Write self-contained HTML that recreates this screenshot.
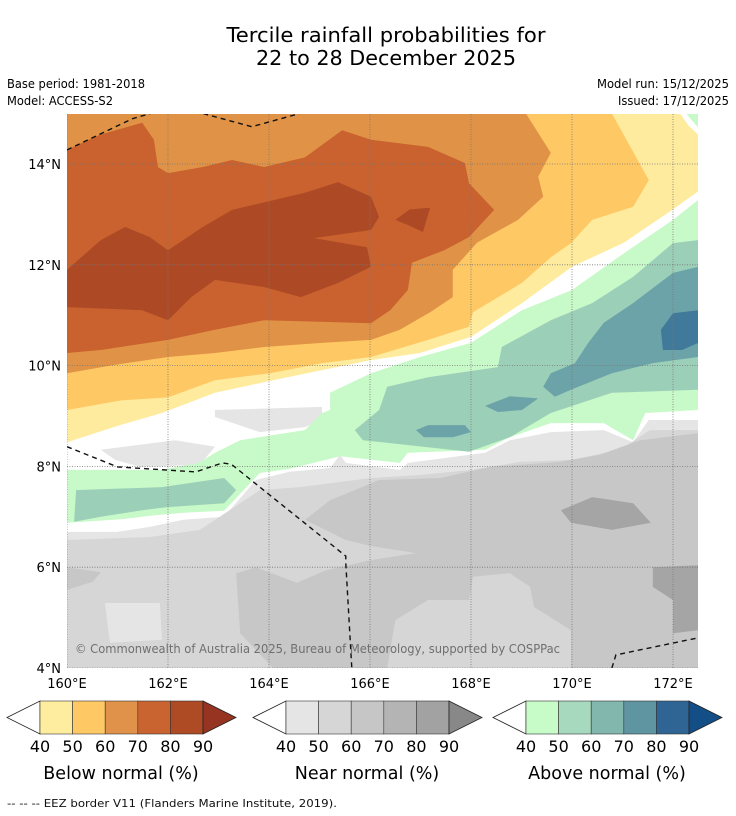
<!DOCTYPE html>
<html><head><meta charset="utf-8"><style>
html,body{margin:0;padding:0;background:#fff;}
svg{display:block;font-family:"DejaVu Sans","Liberation Sans",sans-serif;}
</style></head><body>
<svg id="chart" width="736" height="816" viewBox="0 0 736 816" xmlns="http://www.w3.org/2000/svg">
<g id="header">
<text x="386" y="42" text-anchor="middle" font-size="20" textLength="319" lengthAdjust="spacingAndGlyphs">Tercile rainfall probabilities for</text>
<text x="386" y="65" text-anchor="middle" font-size="20" textLength="260" lengthAdjust="spacingAndGlyphs">22 to 28 December 2025</text>
<text x="7" y="88" font-size="12" textLength="138" lengthAdjust="spacingAndGlyphs">Base period: 1981-2018</text>
<text x="7" y="105" font-size="12" textLength="106" lengthAdjust="spacingAndGlyphs">Model: ACCESS-S2</text>
<text x="729" y="88" font-size="12" text-anchor="end" textLength="132" lengthAdjust="spacingAndGlyphs">Model run: 15/12/2025</text>
<text x="729" y="105" font-size="12" text-anchor="end" textLength="111" lengthAdjust="spacingAndGlyphs">Issued: 17/12/2025</text>
</g>
<defs><clipPath id="mapclip"><rect x="67" y="114" width="631" height="554"/></clipPath></defs>
<g id="map" clip-path="url(#mapclip)"></g>
<g id="axes"></g>
<g id="cbars"></g>
<text x="7" y="807" font-size="11" fill="#111" textLength="330" lengthAdjust="spacingAndGlyphs">--  --  -- EEZ border V11 (Flanders Marine Institute, 2019).</text>
</svg>
<script>
// axis extents (degrees)
const lonTicks = [160,162,164,166,168,170,172];
const latTicks = [4,6,8,10,12,14];
// colorbar data
const cbLevels = ["40","50","60","70","80","90"];
const belowColors = ["#ffed9f","#fec965","#e0924a","#c96431","#ae4a24"];
const nearColors = ["#e5e5e5","#d6d6d6","#c6c6c6","#b4b4b4","#a2a2a2"];
const aboveColors = ["#c7fbc8","#a6d9bd","#82b7ad","#5e95a0","#2f6594"];
const cbTitles = ["Below normal (%)","Near normal (%)","Above normal (%)"];

// contour regions (lon, lat) in painting order
const grayLightPatchA = [[162.93,9.12],[165.05,9.18],[165.05,8.92],[164.71,8.78],[163.82,8.68],[162.93,8.98]];
const grayLightPatchB = [[160.67,8.33],[162.14,8.52],[162.93,8.39],[162.63,8.03],[161.45,7.99],[160.95,8.13]];
const below40 = [[160,8.48],[161.05,8.82],[161.88,9.06],[162.93,9.46],[164.08,9.71],[165.05,9.91],[166.02,10.11],[166.99,10.25],[168.0,10.57],[169.01,11.24],[170.0,11.96],[171.03,12.44],[172.0,13.1],[172.5,13.46],[172.5,14.58],[172.3,14.77],[172.14,15],[160,15]];
const below50 = [[170.79,15],[171.52,13.68],[171.21,13.15],[170.4,12.89],[169.98,12.43],[169.58,12.15],[169.01,11.64],[168.04,11.06],[167.96,10.77],[167.15,10.51],[166.02,10.17],[165.05,10.05],[164.02,9.85],[162.93,9.71],[162.0,9.37],[161.07,9.31],[160,9.12],[160,15]];
const below60 = [[169.09,15],[169.58,14.22],[169.33,13.75],[169.43,13.35],[168.93,12.89],[168.12,12.44],[167.64,11.9],[167.64,11.36],[167.19,11.06],[166.59,10.71],[166.02,10.51],[165.05,10.45],[163.9,10.37],[162.93,10.25],[162.0,10.17],[160.91,10.01],[160,9.85],[160,15]];
const below70 = [[160,14.28],[160.65,14.58],[161.49,14.82],[161.72,14.48],[161.8,13.94],[162.0,13.82],[162.69,13.94],[163.27,14.08],[163.9,13.94],[164.71,14.13],[165.45,14.67],[166.02,14.48],[167.15,14.34],[167.88,14.02],[167.96,13.62],[168.46,13.09],[167.96,12.55],[167.47,12.29],[166.83,12.04],[166.75,11.5],[166.4,11.1],[166.02,10.84],[165.01,10.87],[163.9,10.9],[162.93,10.71],[162.0,10.51],[160.67,10.31],[160,10.25]];
const below80 = [[160,11.9],[160.67,12.49],[161.15,12.75],[161.64,12.55],[162.0,12.29],[162.69,12.75],[163.27,13.09],[164.71,13.43],[165.37,13.64],[166.02,13.35],[166.18,12.95],[166.02,12.69],[164.89,12.53],[165.94,12.35],[166.02,11.96],[165.37,11.64],[164.63,11.36],[163.9,11.56],[162.93,11.7],[162.46,11.36],[162.0,10.9],[161.49,11.1],[160,11.16]];
const below80b = [[166.5,12.89],[166.79,13.1],[167.19,13.13],[167.05,12.65],[166.75,12.79]];
const above40 = [[172.5,13.29],[172,12.89],[171.03,12.23],[170,11.5],[169.01,11.1],[168,10.45],[166.99,10.17],[166.02,9.85],[165.21,9.46],[165.21,9.12],[165.05,9.06],[164.71,8.72],[163.43,8.52],[162.93,8.27],[162.61,8.07],[161.84,7.93],[160,7.93],[160,6.88],[161.07,6.95],[161.64,7.02],[162.3,7.08],[163.11,7.12],[163.82,7.87],[164.4,7.95],[165.41,8.2],[166.59,8.07],[166.75,8.27],[168.28,8.33],[168.77,8.58],[169.58,8.86],[170.63,8.86],[171.21,8.52],[171.45,9.06],[172.5,9.12]];
const above40corner = [[172.26,15],[172.5,15],[172.5,14.72]];
const above50 = [[172.5,12.49],[172,12.43],[171.21,11.76],[170.4,11.24],[169.58,10.9],[168.61,10.37],[168.53,9.97],[167.15,9.77],[166.34,9.58],[166.18,9.12],[165.7,8.72],[165.86,8.52],[167.96,8.29],[168.77,8.58],[169.58,9.06],[170.79,9.46],[172.5,9.52]];
const above50b = [[160.18,7.53],[161.88,7.59],[163.11,7.77],[163.35,7.53],[163.11,7.27],[161.96,7.19],[161.49,7.13],[160.67,7.0],[160.14,6.9]];
const above60 = [[172.5,11.96],[172,11.84],[171.21,11.24],[170.63,10.85],[170.32,10.45],[170.06,10.05],[169.58,9.85],[169.43,9.58],[169.66,9.38],[169.98,9.52],[170.79,9.85],[171.6,10.05],[172.5,10.17]];
const above60b = [[168.28,9.2],[168.77,9.39],[169.33,9.35],[169.01,9.12],[168.53,9.08]];
const above60c = [[166.91,8.72],[167.15,8.82],[167.88,8.82],[168,8.68],[167.64,8.58],[167.07,8.58]];
const above70 = [[172.5,11.1],[172,11.04],[171.76,10.71],[171.8,10.31],[172.18,10.31],[172.5,10.45]];
const near40 = [[172.5,8.92],[171.52,8.92],[171.21,8.48],[170.63,8.72],[169.58,8.68],[168.77,8.52],[168.28,8.27],[166.75,8.07],[166.59,7.93],[165.52,8.07],[165.41,8.23],[165.21,7.97],[164.4,7.89],[163.74,7.73],[163.11,7.0],[162.3,6.94],[161.64,6.8],[160.99,6.7],[160,6.7],[160,4],[172.5,4]];
const near50 = [[172.5,8.72],[171.54,8.72],[170.95,8.33],[170,8.13],[168.97,8.09],[168,7.93],[166.99,7.83],[166.02,7.77],[164.61,7.59],[163.82,7.53],[162.63,6.74],[161.64,6.6],[160,6.54],[160,4],[172.5,4]];
const near60 = [[164.71,6.94],[165.21,7.33],[166.18,7.73],[167.39,7.77],[168.38,7.99],[169.76,8.09],[170.55,8.23],[171.35,8.52],[172.5,8.66],[172.5,4],[169.98,4],[169.98,4.75],[169.25,5.21],[169.17,5.61],[168.77,5.88],[168.04,5.81],[167.96,5.35],[167.15,5.35],[166.5,4.95],[166.34,4],[164.08,4],[163.43,4.69],[163.35,5.88],[163.74,6.0],[164.55,5.69],[165.13,5.94],[166.02,6.14],[166.91,6.28],[166.02,6.42],[165.52,6.54]];
const near60b = [[160,6.0],[160.67,5.9],[160.51,5.71],[160,5.55]];
const near40b = [[160.75,5.29],[161.84,5.29],[161.88,4.56],[160.85,4.5]];
const near80a = [[169.78,7.13],[170.4,7.39],[171.21,7.27],[171.56,6.88],[170.79,6.74],[169.98,6.88]];
const near80b = [[171.6,6.0],[172.5,6.04],[172.5,4.75],[172,4.69],[172,5.35],[171.6,5.61]];
const eezLines = [
 [[160,14.28],[161.3,14.9],[161.65,15]],
 [[162.7,15],[163.66,14.74],[164.6,15]],
 [[160,8.39],[161,7.99],[162.55,7.89],[163.08,8.07],[163.26,8.04],[165.52,6.22],[165.52,6.08],[165.64,4]],
 [[170.79,4],[170.87,4.26],[172.5,4.6]]
];

const NS = "http://www.w3.org/2000/svg";
const X = lon => 67 + (lon - 160) * 50.5;
const Y = lat => 668 - (lat - 4) * 50.4;
function mk(tag, parent){ const e = document.createElementNS(NS, tag); parent.appendChild(e); return e; }
function pts(arr){ return arr.map(p => X(p[0]).toFixed(1) + "," + Y(p[1]).toFixed(1)).join(" "); }

const map = document.getElementById("map");
const bg = mk("rect", map);
bg.setAttribute("x", 67); bg.setAttribute("y", 114); bg.setAttribute("width", 631); bg.setAttribute("height", 554); bg.setAttribute("fill", "#ffffff");



const layers = [
 [grayLightPatchA, "#e5e5e5", "near-normal-40-patch"],
 [grayLightPatchB, "#e5e5e5", "near-normal-40-patch"],
 [below40, "#ffeb9e", "below-normal-40-region"],
 [below50, "#fec864", "below-normal-50-region"],
 [below60, "#e09346", "below-normal-60-region"],
 [below70, "#c9622f", "below-normal-70-region"],
 [below80, "#ad4925", "below-normal-80-region"],
 [below80b, "#ad4925", "below-normal-80-patch"],
 [above40, "#c8f9c8", "above-normal-40-region"],
 [above40corner, "#c8f9c8", "above-normal-40-patch"],
 [above50, "#9ccfb8", "above-normal-50-region"],
 [above50b, "#9ccfb8", "above-normal-50-patch"],
 [above60, "#6ba3a8", "above-normal-60-region"],
 [above60b, "#6ba3a8", "above-normal-60-patch"],
 [above60c, "#6ba3a8", "above-normal-60-patch"],
 [above70, "#41799b", "above-normal-70-region"],
 [near40, "#e5e5e5", "near-normal-40-region"],
 [near50, "#d6d6d6", "near-normal-50-region"],
 [near60, "#c7c7c7", "near-normal-60-region"],
 [near60b, "#c7c7c7", "near-normal-60-patch"],
 [near40b, "#e5e5e5", "near-normal-40-patch"],
 [near80a, "#a5a5a5", "near-normal-70-patch"],
 [near80b, "#a5a5a5", "near-normal-70-patch"]
];
layers.forEach(L => {
  const p = mk("polygon", map);
  p.setAttribute("points", pts(L[0]));
  p.setAttribute("fill", L[1]);
  
  
});

// grid
lonTicks.forEach(lon => {
  const l = mk("line", map);
  l.setAttribute("x1", X(lon)); l.setAttribute("x2", X(lon)); l.setAttribute("y1", 114); l.setAttribute("y2", 668);
  l.setAttribute("stroke", "#777"); l.setAttribute("stroke-width", "0.8"); l.setAttribute("stroke-dasharray", "1,1.5");
  
  
});
latTicks.forEach(lat => {
  const l = mk("line", map);
  l.setAttribute("x1", 67); l.setAttribute("x2", 698); l.setAttribute("y1", Y(lat)); l.setAttribute("y2", Y(lat));
  l.setAttribute("stroke", "#777"); l.setAttribute("stroke-width", "0.8"); l.setAttribute("stroke-dasharray", "1,1.5");
  
  
});
eezLines.forEach(line => {
  const pl = mk("polyline", map);
  pl.setAttribute("points", pts(line));
  pl.setAttribute("fill", "none"); pl.setAttribute("stroke", "#111"); pl.setAttribute("stroke-width", "1.4"); pl.setAttribute("stroke-dasharray", "5,4");
  
  
});
const cp = mk("text", map);
cp.setAttribute("x", 75); cp.setAttribute("y", 653); cp.setAttribute("font-size", "12.5"); cp.setAttribute("fill", "#6f6f6f");
cp.setAttribute("textLength", "485"); cp.setAttribute("lengthAdjust", "spacingAndGlyphs");
cp.textContent = "© Commonwealth of Australia 2025, Bureau of Meteorology, supported by COSPPac";



// axis labels
const axes = document.getElementById("axes");
latTicks.forEach(lat => {
  const t = mk("text", axes);
  t.setAttribute("x", 61); t.setAttribute("y", Y(lat) + 5); t.setAttribute("text-anchor", "end"); t.setAttribute("font-size", "13");
  t.textContent = lat + "°N";
  
  
});
lonTicks.forEach(lon => {
  const t = mk("text", axes);
  t.setAttribute("x", X(lon)); t.setAttribute("y", 688); t.setAttribute("text-anchor", "middle"); t.setAttribute("font-size", "13");
  t.textContent = lon + "°E";
  
  
});

// colorbars
const cb = document.getElementById("cbars");
const cbDefs = [[7, belowColors, "#973421"], [253, nearColors, "#888888"], [493, aboveColors, "#144e86"]];
cbDefs.forEach((d, i) => {
  const x0 = d[0], cols = d[1], endCol = d[2];
  const g = mk("g", cb);
  
  
  const bx = x0 + 33, y0 = 701, h = 33, w = 163 / cols.length;
  const lt = mk("polygon", g);
  lt.setAttribute("points", `${x0},${y0 + h / 2} ${bx},${y0} ${bx},${y0 + h}`);
  lt.setAttribute("fill", "#fff"); lt.setAttribute("stroke", "#222"); lt.setAttribute("stroke-width", "0.8");
  
  
  cols.forEach((c, k) => {
    const r = mk("rect", g);
    r.setAttribute("x", bx + k * w); r.setAttribute("y", y0); r.setAttribute("width", w); r.setAttribute("height", h);
    r.setAttribute("fill", c); r.setAttribute("stroke", "#333"); r.setAttribute("stroke-width", "0.6");
    
    
  });
  const ex = bx + 163;
  const rt = mk("polygon", g);
  rt.setAttribute("points", `${ex},${y0} ${ex + 33},${y0 + h / 2} ${ex},${y0 + h}`);
  rt.setAttribute("fill", endCol); rt.setAttribute("stroke", "#222"); rt.setAttribute("stroke-width", "0.8");
  
  
  cbLevels.forEach((lv, k) => {
    const t = mk("text", g);
    t.setAttribute("x", bx + k * w); t.setAttribute("y", 752); t.setAttribute("text-anchor", "middle"); t.setAttribute("font-size", "16");
    t.textContent = lv;
    
    
  });
  const tt = mk("text", g);
  tt.setAttribute("x", bx + 81); tt.setAttribute("y", 779); tt.setAttribute("text-anchor", "middle"); tt.setAttribute("font-size", "17.5");
  tt.textContent = cbTitles[i];
  
  
});
</script>
</body></html>
